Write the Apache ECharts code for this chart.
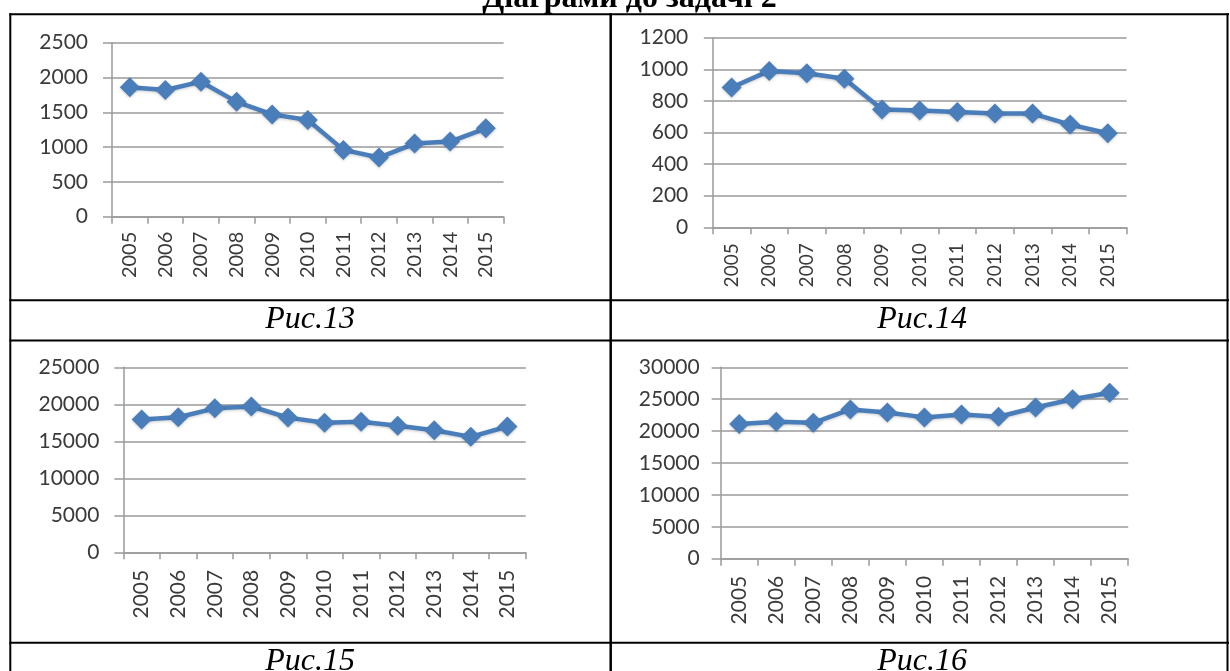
<!DOCTYPE html>
<html><head><meta charset="utf-8">
<script src="https://cdn.jsdelivr.net/npm/echarts@6/dist/echarts.min.js"></script>
<style>html,body{margin:0;padding:0;background:#fff;}#c{width:1230px;height:671px;}</style>
</head><body><div id="c"></div>
<script>
// ---- data ----
const years = ['2005','2006','2007','2008','2009','2010','2011','2012','2013','2014','2015'];
const fig13 = [1860, 1820, 1940, 1650, 1470, 1390, 960, 850, 1050, 1080, 1270];
const fig14 = [885, 990, 975, 940, 745, 740, 730, 720, 720, 650, 595];
const fig15 = [17950, 18250, 19450, 19700, 18200, 17500, 17650, 17100, 16500, 15600, 17000];
const fig16 = [21100, 21450, 21300, 23400, 22900, 22150, 22600, 22250, 23700, 25000, 26000];
const yMax = [2500, 1200, 25000, 30000];
const yStep = [500, 200, 5000, 5000];
const captions = ['Рис.13', 'Рис.14', 'Рис.15', 'Рис.16'];
const heading = 'Діаграми до задачі 2';

// ---- layout ----
const seriesData = [fig13, fig14, fig15, fig16];
const grids = [
  {left: 112,   top: 42.7,  width: 391.6, height: 174},
  {left: 712.8, top: 37.7,  width: 413.8, height: 189.6},
  {left: 123.4, top: 367.3, width: 402.3, height: 185},
  {left: 720.7, top: 367.3, width: 407.5, height: 191.4}
];
const yMargin = [24, 24.5, 24, 21];
const xMargin = [15, 16, 17.5, 17];
const xFont = [20, 19, 21, 21];
const FONT = 'Lato';
const GRID = '#9a9a9a';
const BLUE = '#4a7ebb';

const chart = echarts.init(document.getElementById('c'), null, {renderer: 'canvas'});

const option = {
  animation: false,
  backgroundColor: '#fff',
  grid: grids.map(g => Object.assign({containLabel: false}, g)),
  xAxis: grids.map((g, i) => ({
    type: 'category', gridIndex: i, data: years, boundaryGap: true,
    axisLine: {show: true, lineStyle: {color: GRID, width: 1.5}},
    axisTick: {show: true, length: 7, inside: false, lineStyle: {color: GRID, width: 1.5}},
    axisLabel: {rotate: 90, margin: xMargin[i], fontFamily: FONT, fontSize: xFont[i], color: '#3a3a3a', interval: 0},
    splitLine: {show: false}
  })),
  yAxis: grids.map((g, i) => ({
    type: 'value', gridIndex: i, min: 0, max: yMax[i], interval: yStep[i],
    axisLine: {show: true, lineStyle: {color: GRID, width: 1.5}},
    axisTick: {show: true, length: 9, inside: false, lineStyle: {color: GRID, width: 1.5}},
    axisLabel: {margin: yMargin[i], fontFamily: FONT, fontSize: 21, color: '#3a3a3a', formatter: v => String(v)},
    splitLine: {show: true, lineStyle: {color: GRID, width: 1.5}}
  })),
  series: seriesData.map((d, i) => ({
    type: 'line', xAxisIndex: i, yAxisIndex: i, data: d,
    symbol: 'diamond', symbolSize: 20, showSymbol: true,
    lineStyle: {color: BLUE, width: 4.5, shadowColor: 'rgba(0,0,0,0.2)', shadowBlur: 3, shadowOffsetY: 1},
    itemStyle: {color: BLUE, shadowColor: 'rgba(0,0,0,0.2)', shadowBlur: 3, shadowOffsetY: 1},
    emphasis: {disabled: true}
  })),
  graphic: [
    // table borders
    {type: 'line', shape: {x1: 9.3, y1: 14.3, x2: 1229, y2: 14.3}, style: {stroke: '#000', lineWidth: 2}},
    {type: 'line', shape: {x1: 10.3, y1: 13.3, x2: 10.3, y2: 671}, style: {stroke: '#000', lineWidth: 2}},
    {type: 'line', shape: {x1: 610.7, y1: 13.3, x2: 610.7, y2: 671}, style: {stroke: '#000', lineWidth: 2.5}},
    {type: 'line', shape: {x1: 1227.5, y1: 13.3, x2: 1227.5, y2: 671}, style: {stroke: '#000', lineWidth: 2}},
    {type: 'line', shape: {x1: 9.3, y1: 300.3, x2: 1229, y2: 300.3}, style: {stroke: '#000', lineWidth: 2}},
    {type: 'line', shape: {x1: 9.3, y1: 340.5, x2: 1229, y2: 340.5}, style: {stroke: '#000', lineWidth: 2}},
    {type: 'line', shape: {x1: 9.3, y1: 642.8, x2: 1229, y2: 642.8}, style: {stroke: '#000', lineWidth: 2}},
    // heading (cut off at top)
    {type: 'text', x: 629.5, y: -1.5, style: {text: heading, font: 'bold 32px "Liberation Serif"', fill: '#000', textAlign: 'center', textVerticalAlign: 'middle'}},
    // captions
    {type: 'text', x: 310, y: 319.2, style: {text: captions[0], font: 'italic 32px "Liberation Serif"', fill: '#000', textAlign: 'center', textVerticalAlign: 'middle'}},
    {type: 'text', x: 922, y: 319.2, style: {text: captions[1], font: 'italic 32px "Liberation Serif"', fill: '#000', textAlign: 'center', textVerticalAlign: 'middle'}},
    {type: 'text', x: 310, y: 661.5, style: {text: captions[2], font: 'italic 32px "Liberation Serif"', fill: '#000', textAlign: 'center', textVerticalAlign: 'middle'}},
    {type: 'text', x: 922, y: 661.5, style: {text: captions[3], font: 'italic 32px "Liberation Serif"', fill: '#000', textAlign: 'center', textVerticalAlign: 'middle'}}
  ]
};
chart.setOption(option);
</script>
</body></html>
